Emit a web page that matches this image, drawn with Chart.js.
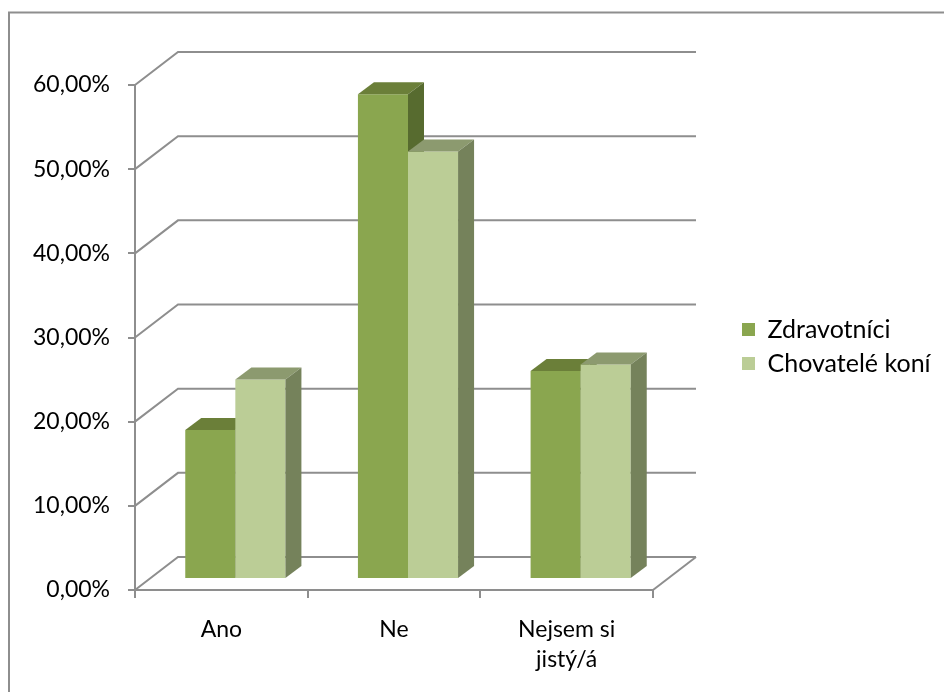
<!DOCTYPE html>
<html>
<head>
<meta charset="utf-8">
<title>Zdravotníci a chovatelé koní</title>
<script src="https://cdn.jsdelivr.net/npm/chart.js@4/dist/chart.umd.min.js"></script>
<style>
  html, body { margin: 0; padding: 0; background: #fff; }
  canvas { display: block; }
</style>
</head>
<body>
<canvas id="chart" width="944" height="692"></canvas>
<script>
// data
const categories = ['Ano', 'Ne', ['Nejsem si', 'jistý/á']];
const seriesNames = ['Zdravotníci', 'Chovatelé koní'];
const zdravotnici = [17.7, 57.6, 24.7];
const chovatele = [23.7, 50.8, 25.5];

// colours: front, top, side of each column
const frontColors = ['#8aa64f', '#bbcd96'];
const topColors = ['#6b7f39', '#8c9a6f'];
const sideColors = ['#576b2f', '#75825b'];

// fake 3D depth
const WALL_DX = 43, WALL_DY = 33;   // back wall offset from front axes
const BAR_DX = 14, BAR_DY = 11;     // column front face offset
const COL_DX = 16, COL_DY = 12;     // column depth
const GRID = '#8e8e8e';
const LEGEND_X = 742;

const depth3d = {
  id: 'depth3d',
  beforeInit(chart) {
    const fit = chart.legend.fit;
    chart.legend.fit = function () {
      fit.call(this);
      this.width = 944 - 653;
    };
  },
  afterLayout(chart) {
    const lg = chart.legend;
    const pad = lg.options.labels.padding;
    const w = lg.width;
    lg.left = LEGEND_X - pad;
    lg.right = lg.left + w;
    lg.top -= 42;
    lg.bottom -= 42;
  },
  beforeDraw(chart) {
    const { ctx, scales: { x, y } } = chart;
    ctx.save();
    // outer frame
    ctx.strokeStyle = GRID;
    ctx.lineWidth = 2;
    ctx.strokeRect(9, 12.5, 1200, 1200);
    // back wall lines and left wall diagonals
    y.ticks.forEach(t => {
      const py = y.getPixelForValue(t.value);
      ctx.beginPath();
      ctx.moveTo(x.left, py);
      ctx.lineTo(x.left + WALL_DX, py - WALL_DY);
      ctx.lineTo(x.right + WALL_DX, py - WALL_DY);
      ctx.stroke();
    });
    // right floor edge
    const p0 = y.getPixelForValue(0);
    ctx.beginPath();
    ctx.moveTo(x.right, p0);
    ctx.lineTo(x.right + WALL_DX, p0 - WALL_DY);
    ctx.stroke();
    ctx.restore();
  },
  // columns are painted here instead of the default pass: pushed back into the box,
  // front face, top and side, first series first so the second one covers its side
  beforeDatasetsDraw(chart) {
    const ctx = chart.ctx;
    ctx.save();
    ctx.translate(BAR_DX, -BAR_DY);
    chart.data.datasets.forEach((ds, i) => {
      chart.getDatasetMeta(i).data.forEach(bar => {
        const { x, y, base, width } = bar.getProps(['x', 'y', 'base', 'width'], true);
        const l = x - width / 2, r = x + width / 2;
        bar.draw(ctx);
        ctx.fillStyle = topColors[i];
        ctx.beginPath();
        ctx.moveTo(l, y);
        ctx.lineTo(r, y);
        ctx.lineTo(r + COL_DX, y - COL_DY);
        ctx.lineTo(l + COL_DX, y - COL_DY);
        ctx.closePath();
        ctx.fill();
        ctx.fillStyle = sideColors[i];
        ctx.beginPath();
        ctx.moveTo(r, y);
        ctx.lineTo(r + COL_DX, y - COL_DY);
        ctx.lineTo(r + COL_DX, base - COL_DY);
        ctx.lineTo(r, base);
        ctx.closePath();
        ctx.fill();
      });
    });
    ctx.restore();
    return false;
  }
};

Chart.defaults.font.family = 'Lato, "Liberation Sans", sans-serif';
Chart.defaults.font.size = 23;
Chart.defaults.color = '#000';

new Chart(document.getElementById('chart'), {
  type: 'bar',
  data: {
    labels: categories,
    datasets: [
      { label: seriesNames[0], data: zdravotnici, backgroundColor: frontColors[0] },
      { label: seriesNames[1], data: chovatele, backgroundColor: frontColors[1] }
    ]
  },
  options: {
    responsive: false,
    animation: false,
    devicePixelRatio: 1,
    layout: { padding: { top: 85, left: 0, right: 0, bottom: 0 } },
    datasets: {
      bar: { categoryPercentage: 0.58, barPercentage: 1, borderWidth: 0 }
    },
    scales: {
      x: {
        afterFit(s) { s.height = 692 - 590; },
        grid: { drawOnChartArea: false, drawTicks: true, tickLength: 8, color: GRID, lineWidth: 2 },
        border: { display: true, color: GRID, width: 2 },
        ticks: { padding: 17, maxRotation: 0, autoSkip: false, font: { lineHeight: 1.3 } }
      },
      y: {
        min: 0,
        max: 60,
        afterFit(s) { s.width = 135; },
        grid: { drawOnChartArea: false, drawTicks: true, tickLength: 7, color: GRID, lineWidth: 2 },
        border: { display: true, color: GRID, width: 2 },
        ticks: {
          stepSize: 10,
          padding: 18,
          callback: v => v.toFixed(2).replace('.', ',') + '%'
        }
      }
    },
    plugins: {
      legend: {
        position: 'right',
        labels: {
          boxWidth: 13,
          boxHeight: 13,
          padding: 9,
          font: { size: 25 }
        }
      },
      tooltip: { enabled: false }
    }
  },
  plugins: [depth3d]
});
</script>
</body>
</html>
